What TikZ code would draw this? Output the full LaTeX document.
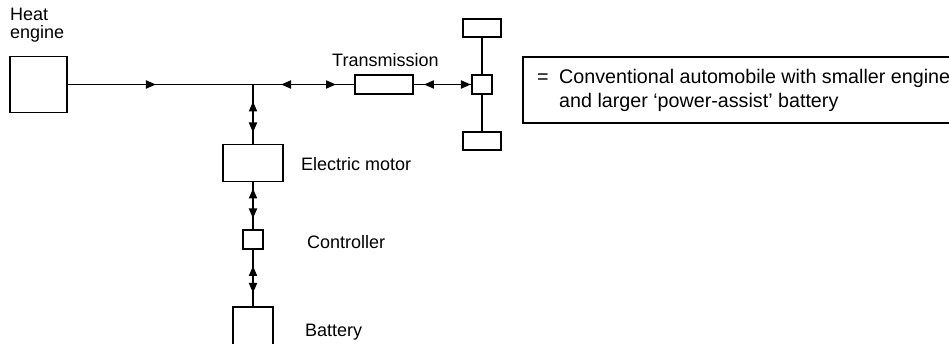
\documentclass[tikz,border=0pt]{standalone}
\usepackage{fontspec}
\setmainfont{Liberation Sans}
\usetikzlibrary{arrows.meta,decorations.markings}
\tikzset{
  >={Triangle[length=10pt,width=8pt]},
  box/.style={draw,line width=1.9pt,inner sep=0pt},
  conn/.style={line width=1.9pt},
  lbl/.style={font=\fontsize{18}{21}\selectfont,inner sep=0pt,anchor=base west},
  notetxt/.style={font=\fontsize{19.7}{23}\selectfont,inner sep=0pt,anchor=base west},
  fwdarr/.style={decoration={markings,mark=at position #1 with {\arrow{>}}},postaction={decorate}},
  bidir/.style 2 args={decoration={markings,
      mark=at position #1 with {\arrowreversed{>}},
      mark=at position #2 with {\arrow{>}}},postaction={decorate}},
}
\begin{document}
\begin{tikzpicture}[x=1pt,y=-1pt]
\useasboundingbox (0,0) rectangle (949,344);
% boxes
\node[box,minimum width=57pt,minimum height=56pt] (heat) at (38.5,84.5) {};
\node[box,minimum width=58pt,minimum height=19pt] (trans) at (384,84.5) {};
\node[box,minimum width=20pt,minimum height=19pt] (sq) at (482,84.5) {};
\node[box,minimum width=38pt,minimum height=18pt] (wtop) at (482,28) {};
\node[box,minimum width=38pt,minimum height=18pt] (wbot) at (482,141) {};
\node[box,minimum width=60pt,minimum height=37pt] (motor) at (253,163) {};
\node[box,minimum width=20pt,minimum height=19pt] (ctrl) at (253,239.5) {};
\node[box,minimum width=40pt,minimum height=66pt] (batt) at (253,340) {};
\coordinate (J) at (253,84.5);
% connectors
\draw[conn,fwdarr=88pt] (heat.east) -- (J);
\draw[conn,bidir={28pt}{83pt}] (J) -- (trans.west);
\draw[conn,bidir={10pt}{57pt}] (trans.east) -- (sq.west);
\draw[conn] (wtop.south) -- (sq.north);
\draw[conn] (sq.south) -- (wbot.north);
\draw[conn,bidir={17pt}{48pt}] (J) -- (motor.north);
\draw[conn,bidir={6pt}{36pt}] (motor.south) -- (ctrl.north);
\draw[conn,bidir={16pt}{43pt}] (ctrl.south) -- (batt.north);
% labels
\node[lbl] (heatl1) at (10,21) {Heat};
\node[lbl] (heatl2) at (10,39) {engine};
\node[lbl] (transl) at (332,66.5) {Transmission};
\node[lbl] (motorl) at (301,171) {Electric motor};
\node[lbl] (ctrll) at (307,249) {Controller};
\node[lbl] (battl) at (305,336) {Battery};
% note box
\node[box,anchor=north west,minimum width=440pt,minimum height=66pt] (note) at (522,56.5) {};
\node[notetxt] (eq) at (537,83.5) {=};
\node[notetxt] (note1) at (559,83.5) {Conventional automobile with smaller engine};
\node[notetxt] (note2) at (559,108) {and larger ‘power-assist’ battery};
\end{tikzpicture}
\end{document}
